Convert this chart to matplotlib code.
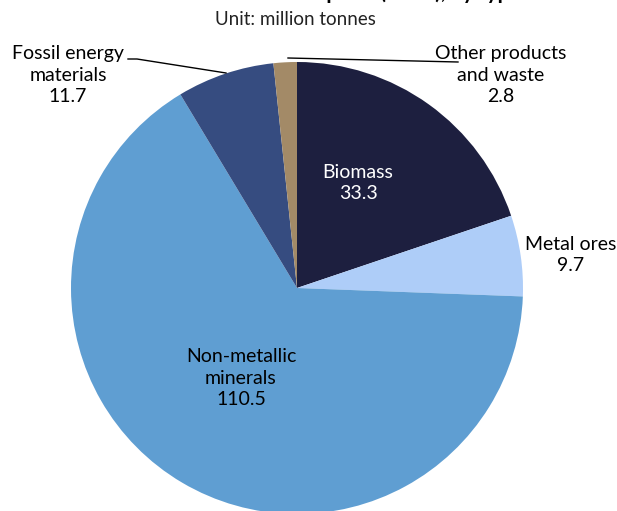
import matplotlib.pyplot as plt

categories = ["Biomass", "Metal ores", "Non-metallic\nminerals",
              "Fossil energy\nmaterials", "Other products\nand waste"]
values = [33.3, 9.7, 110.5, 11.7, 2.8]
colors = ["#1d1f3f", "#aecdf8", "#5f9ed2", "#364c80", "#a38a67"]

W, H = 617, 511
fig = plt.figure(figsize=(W / 100, H / 100), dpi=100)
ax = fig.add_axes([0, 0, 1, 1])

plt.rcParams["font.family"] = ["Lato", "DejaVu Sans"]

cx, cy, r = 297, H - 288, 226
ax.pie(values, colors=colors, startangle=90, counterclock=False,
       center=(cx, cy), radius=r, frame=True,
       wedgeprops=dict(linewidth=0))
ax.set_xlim(0, W)
ax.set_ylim(0, H)
ax.set_aspect("equal")
ax.axis("off")

# label anchor points (pixel coords from top)
label_pos = [(358, 183), (571, 255), (241, 378), (68, 75), (501, 75)]
label_col = ["white", "black", "black", "black", "black"]
for name, v, (x, y), c in zip(categories, values, label_pos, label_col):
    ax.text(x, H - y, f"{name}\n{v}", ha="center", va="center",
            fontsize=14, color=c, linespacing=1.35)

# leader lines
ax.plot([128, 137, 226], [H - 59, H - 59, H - 73], color="black", lw=1)
ax.plot([288, 458], [H - 58, H - 62], color="black", lw=1)

ax.text(295, H - 19, "Unit: million tonnes", ha="center", va="center",
        fontsize=13.5, color="#222222")
ax.text(300, H + 1, "Domestic material consumption (DMC), by type",
        ha="center", va="baseline", fontsize=15, fontweight="bold",
        clip_on=False)

fig.savefig("out.png", dpi=100)
